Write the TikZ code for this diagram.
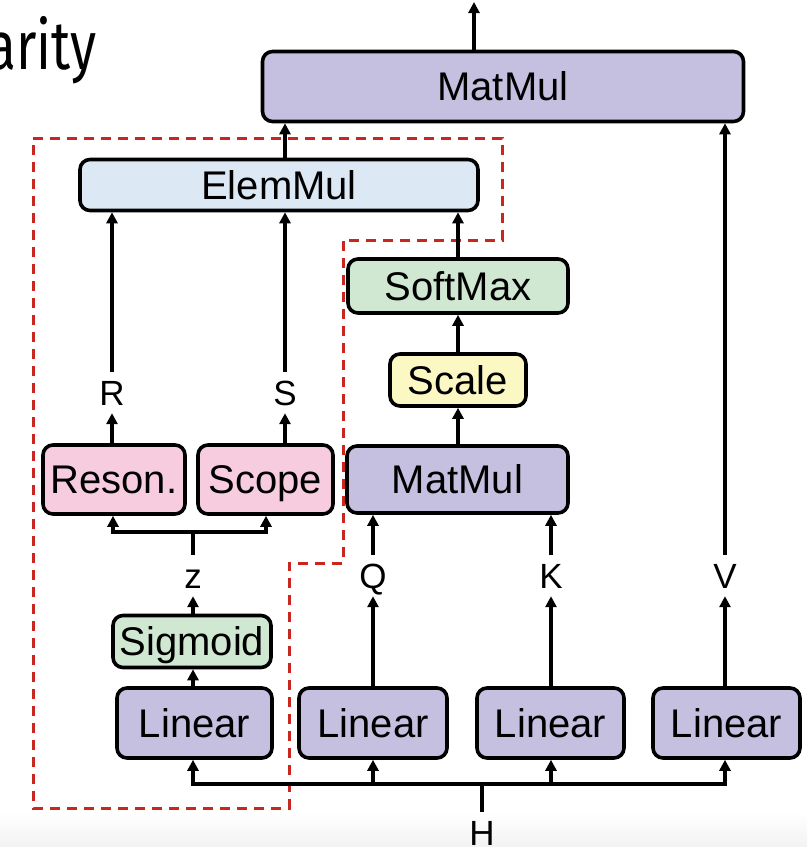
\documentclass[tikz,border=0pt]{standalone}
\usepackage{fontspec}
\setmainfont{Liberation Sans}
\newfontfamily\arityfont{Fira Sans}
\usetikzlibrary{arrows.meta}
\definecolor{lav}{RGB}{198,192,224}
\definecolor{lblue}{RGB}{221,232,245}
\definecolor{lgreen}{RGB}{208,231,210}
\definecolor{lyellow}{RGB}{252,248,196}
\definecolor{lpink}{RGB}{246,204,222}
\definecolor{dred}{RGB}{200,38,30}
\begin{document}
\begin{tikzpicture}[x=1pt,y=-1pt,
  box/.style={draw, line width=3.6pt, rounded corners=10pt, inner sep=0pt,
    text height=28pt, text depth=0pt, font=\fontsize{40}{42}\selectfont},
  lbl/.style={inner xsep=2pt, inner ysep=8pt, text height=25pt, text depth=0pt,
    font=\fontsize{35}{37}\selectfont, anchor=base},
  ln/.style={line width=3.4pt},
  arr/.style={line width=3.4pt, -{Triangle[width=11pt,length=11pt]}},
  barr/.style={line width=3.4pt, {Triangle[width=11pt,length=11pt]}-{Triangle[width=11pt,length=11pt]}},
  redline/.style={draw=dred, line width=3pt, dash pattern=on 10pt off 7pt}]
\useasboundingbox (0,0) rectangle (807,847);
\clip (0,0) rectangle (807,847);
\shade[top color=white, bottom color=black!5] (0,812) rectangle (807,847);

% title fragment
\node[anchor=base east, inner sep=0pt, font=\arityfont\fontsize{68}{72}\selectfont] (ar) at (97,69) {\scalebox{0.78}[1]{arity}};

% red dashed region
\draw[redline] (33,138) -- (502,138) -- (502,240) -- (343,240) -- (343,563) -- (289,563) -- (289,808) -- (33,808) -- cycle;

% boxes
\node[box, fill=lav, minimum width=481pt, minimum height=70pt] (mm1) at (503,86.5) {MatMul};
\node[box, fill=lblue, minimum width=398pt, minimum height=51pt] (elem) at (279,185) {ElemMul};
\node[box, fill=lgreen, minimum width=220pt, minimum height=54pt] (soft) at (458,286) {SoftMax};
\node[box, fill=lyellow, minimum width=136pt, minimum height=52pt] (scale) at (458,380) {Scale};
\node[box, fill=lav, minimum width=221pt, minimum height=67pt] (mm2) at (457.5,479.5) {MatMul};
\node[box, fill=lpink, minimum width=142pt, minimum height=69pt] (reson) at (114,479.5) {Reson.};
\node[box, fill=lpink, minimum width=135pt, minimum height=69pt] (scope) at (265.5,479.5) {Scope};
\node[box, fill=lgreen, minimum width=158pt, minimum height=52pt] (sig) at (192,641.5) {Sigmoid};
\node[box, fill=lav, minimum width=155pt, minimum height=70pt] (lin1) at (194.5,723) {Linear};
\node[box, fill=lav, minimum width=148pt, minimum height=70pt] (lin2) at (373,723) {Linear};
\node[box, fill=lav, minimum width=147pt, minimum height=70pt] (lin3) at (550.5,723) {Linear};
\node[box, fill=lav, minimum width=147pt, minimum height=70pt] (lin4) at (726.5,723) {Linear};

% labels
\node[lbl] (R) at (112,405) {R};
\node[lbl] (S) at (285,405) {S};
\node[lbl] (z) at (193,588) {z};
\node[lbl] (Q) at (373,588) {Q};
\node[lbl] (K) at (551,588) {K};
\node[lbl] (V) at (725,588) {V};
\node[lbl] (H) at (482,845) {H};

% helper coordinates
\coordinate (top) at (474,2);
\coordinate (ea) at (285,0);
\coordinate (sa) at (458,0);
\coordinate (fkL) at (113,532);
\coordinate (fkR) at (266,532);
\coordinate (bus) at (482,784);

% connectors
\draw[arr] (mm1.north -| top) -- (top);
\draw[arr] (elem.north -| ea) -- (mm1.south -| ea);
\draw[arr] (V.north) -- (mm1.south -| V);
\draw[arr] (R.north) -- (elem.south -| R);
\draw[arr] (S.north) -- (elem.south -| S);
\draw[arr] (soft.north -| sa) -- (elem.south -| sa);
\draw[arr] (scale.north -| sa) -- (soft.south -| sa);
\draw[arr] (mm2.north -| sa) -- (scale.south -| sa);
\draw[arr] (reson.north -| R) -- (R.south);
\draw[arr] (scope.north -| S) -- (S.south);
\draw[barr] (reson.south -| fkL) -- (fkL) -- (fkR) -- (scope.south -| fkR);
\draw[ln] (z.north) -- (z.north |- fkL);
\draw[arr] (sig.north -| z) -- (z.south);
\draw[arr] (lin1.north -| z) -- (sig.south -| z);
\draw[arr] (lin2.north -| Q) -- (Q.south);
\draw[arr] (Q.north) -- (mm2.south -| Q);
\draw[arr] (lin3.north -| K) -- (K.south);
\draw[arr] (K.north) -- (mm2.south -| K);
\draw[arr] (lin4.north -| V) -- (V.south);
\draw[barr] (lin1.south -| z) -- (z |- bus) -- (V |- bus) -- (lin4.south -| V);
\draw[arr] (Q |- bus) -- (lin2.south -| Q);
\draw[arr] (K |- bus) -- (lin3.south -| K);
\draw[ln] (bus) -- (H.north);
\end{tikzpicture}
\end{document}
